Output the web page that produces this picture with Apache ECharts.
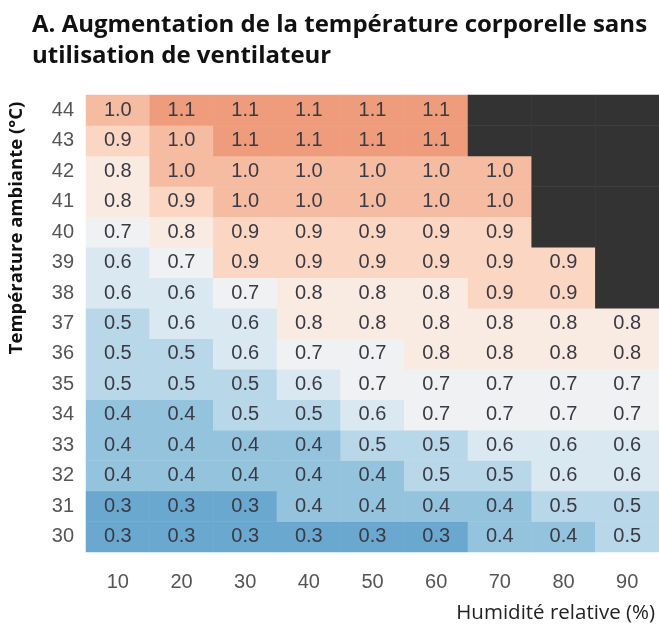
<!DOCTYPE html>
<html>
<head>
<meta charset="utf-8">
<script src="https://cdn.jsdelivr.net/npm/echarts@6/dist/echarts.min.js"></script>
<style>
  html, body { margin: 0; padding: 0; background: #fff; }
  #chart { width: 659px; height: 630px; }
</style>
</head>
<body>
<div id="chart"></div>
<script>
// Relative humidity (%) along x, ambient temperature (°C) along y
const humidity = ['10', '20', '30', '40', '50', '60', '70', '80', '90'];
const temperature = ['30', '31', '32', '33', '34', '35', '36', '37', '38', '39', '40', '41', '42', '43', '44'];

// Body temperature increase (°C), one row per ambient temperature, null = no data
const rise30 = [0.3, 0.3, 0.3, 0.3, 0.3, 0.3, 0.4, 0.4, 0.5];
const rise31 = [0.3, 0.3, 0.3, 0.4, 0.4, 0.4, 0.4, 0.5, 0.5];
const rise32 = [0.4, 0.4, 0.4, 0.4, 0.4, 0.5, 0.5, 0.6, 0.6];
const rise33 = [0.4, 0.4, 0.4, 0.4, 0.5, 0.5, 0.6, 0.6, 0.6];
const rise34 = [0.4, 0.4, 0.5, 0.5, 0.6, 0.7, 0.7, 0.7, 0.7];
const rise35 = [0.5, 0.5, 0.5, 0.6, 0.7, 0.7, 0.7, 0.7, 0.7];
const rise36 = [0.5, 0.5, 0.6, 0.7, 0.7, 0.8, 0.8, 0.8, 0.8];
const rise37 = [0.5, 0.6, 0.6, 0.8, 0.8, 0.8, 0.8, 0.8, 0.8];
const rise38 = [0.6, 0.6, 0.7, 0.8, 0.8, 0.8, 0.9, 0.9, null];
const rise39 = [0.6, 0.7, 0.9, 0.9, 0.9, 0.9, 0.9, 0.9, null];
const rise40 = [0.7, 0.8, 0.9, 0.9, 0.9, 0.9, 0.9, null, null];
const rise41 = [0.8, 0.9, 1.0, 1.0, 1.0, 1.0, 1.0, null, null];
const rise42 = [0.8, 1.0, 1.0, 1.0, 1.0, 1.0, 1.0, null, null];
const rise43 = [0.9, 1.0, 1.1, 1.1, 1.1, 1.1, null, null, null];
const rise44 = [1.0, 1.1, 1.1, 1.1, 1.1, 1.1, null, null, null];

const rows = [rise30, rise31, rise32, rise33, rise34, rise35, rise36, rise37,
              rise38, rise39, rise40, rise41, rise42, rise43, rise44];

const cells = [];
const noData = [];
rows.forEach(function (row, yi) {
  row.forEach(function (v, xi) {
    if (v === null) noData.push([xi, yi, 0]);
    else cells.push([xi, yi, v]);
  });
});

const chart = echarts.init(document.getElementById('chart'), null, { renderer: 'canvas' });

chart.setOption({
  animation: false,
  backgroundColor: '#ffffff',
  graphic: [
    {
      type: 'text', x: 32, y: 25,
      style: {
        text: 'A. Augmentation de la température corporelle sans',
        font: 'bold 24px "Open Sans"', fill: '#111', verticalAlign: 'middle'
      }
    },
    {
      type: 'text', x: 32, y: 56,
      style: {
        text: 'utilisation de ventilateur',
        font: 'bold 24px "Open Sans"', fill: '#111', verticalAlign: 'middle'
      }
    },
    {
      type: 'text', x: 17, y: 228, rotation: Math.PI / 2, originX: 0, originY: 0,
      style: {
        text: 'Température ambiante (°C)',
        font: 'bold 18.5px "Open Sans"', fill: '#111',
        align: 'center', verticalAlign: 'middle'
      }
    },
    {
      type: 'text', x: 655, y: 613,
      style: {
        text: 'Humidité relative (%)',
        font: '20.5px "Open Sans"', fill: '#222',
        align: 'right', verticalAlign: 'middle'
      }
    }
  ],
  grid: { left: 86, right: 0, top: 95, bottom: 78, containLabel: false },
  xAxis: {
    type: 'category',
    data: humidity,
    axisLine: { show: false },
    axisTick: { show: false },
    splitLine: { show: false },
    axisLabel: { color: '#555', fontSize: 20, fontFamily: 'Liberation Sans', margin: 20 }
  },
  yAxis: {
    type: 'category',
    data: temperature,
    axisLine: { show: false },
    axisTick: { show: false },
    splitLine: { show: false },
    axisLabel: { color: '#555', fontSize: 20, fontFamily: 'Liberation Sans', margin: 12 }
  },
  visualMap: {
    show: false,
    type: 'continuous',
    seriesIndex: 0,
    dimension: 2,
    min: 0.3,
    max: 1.1,
    inRange: {
      color: ['#6aa8d0', '#9ac7e0', '#c2dcea', '#e8f0f5', '#f8f1ee', '#fbddcd', '#f6c0a6', '#ee9c7c']
    }
  },
  series: [
    {
      type: 'heatmap',
      data: cells,
      label: {
        show: true,
        color: '#3a3a44',
        fontSize: 20,
        fontFamily: 'Liberation Sans',
        formatter: function (p) { return p.value[2].toFixed(1); }
      },
      itemStyle: { borderWidth: 0 },
      emphasis: { disabled: true }
    },
    {
      type: 'heatmap',
      data: noData,
      label: { show: false },
      itemStyle: { color: '#333333', borderWidth: 0 },
      emphasis: { disabled: true }
    }
  ]
});
</script>
</body>
</html>
